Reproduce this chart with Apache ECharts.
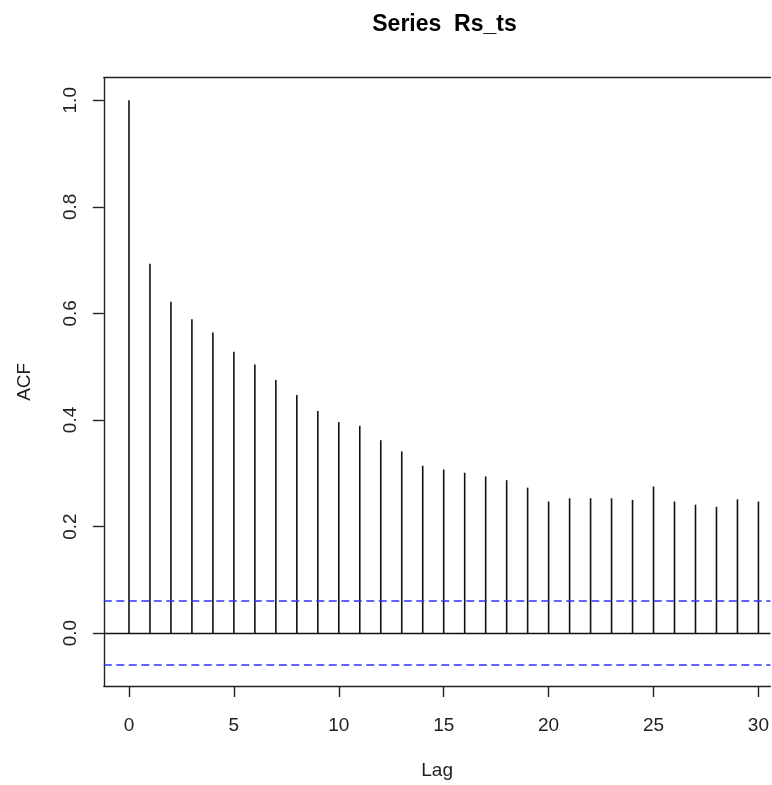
<!DOCTYPE html>
<html>
<head>
<meta charset="utf-8">
<script src="https://cdn.jsdelivr.net/npm/echarts@6/dist/echarts.min.js"></script>
<style>
html,body{margin:0;padding:0;background:#fff;}
#chart{width:772px;height:785px;}
</style>
</head>
<body>
<div id="chart"></div>
<script>
var titleText = 'Series  Rs_ts';
var xName = 'Lag';
var yName = 'ACF';
var lags = [0,1,2,3,4,5,6,7,8,9,10,11,12,13,14,15,16,17,18,19,20,21,22,23,24,25,26,27,28,29,30];
var acfValues = [1.000,0.693,0.622,0.589,0.564,0.528,0.504,0.475,0.447,0.417,0.396,0.389,0.362,0.341,0.314,0.307,0.301,0.294,0.287,0.273,0.247,0.253,0.253,0.253,0.250,0.275,0.247,0.241,0.237,0.251,0.247];
var ciLimit = 0.057;
var xTicks = [0,5,10,15,20,25,30];
var yTicks = [0.0,0.2,0.4,0.6,0.8,1.0];

var font = 'Liberation Sans, Arial, Helvetica, sans-serif';
var chart = echarts.init(document.getElementById('chart'), null, {renderer:'canvas'});
var data = lags.map(function(l,i){ return [l, acfValues[i]]; });
var yMin = -0.0993, yMax = 1.0423;
var xMin = -1.2, xMax = 30.57;
var axisColor = '#222';
chart.setOption({
  animation:false,
  backgroundColor:'#ffffff',
  title:{
    text:titleText, left:439.5, top:8.5, textAlign:'center',
    textStyle:{fontFamily:font, fontWeight:'bold', fontSize:23, color:'#000'}
  },
  grid:{left:103.8, top:77.7, right:0, bottom:96.6, show:false},
  xAxis:[{
    type:'value', min:xMin, max:xMax, position:'bottom',
    name:xName, nameLocation:'middle', nameGap:75,
    nameTextStyle:{fontFamily:font, fontSize:19, color:'#222'},
    axisLine:{show:true, onZero:false, lineStyle:{color:axisColor, width:1.4}},
    axisTick:{show:true, inside:false, length:11, customValues:xTicks, lineStyle:{color:axisColor, width:1.4}},
    axisLabel:{show:true, margin:30, customValues:xTicks, fontFamily:font, fontSize:19, color:'#222'},
    splitLine:{show:false}
  },{
    type:'value', min:xMin, max:xMax, position:'top',
    axisLine:{show:true, onZero:false, lineStyle:{color:axisColor, width:1.4}},
    axisTick:{show:false}, axisLabel:{show:false}, splitLine:{show:false}
  }],
  yAxis:{
    type:'value', min:yMin, max:yMax, position:'left',
    name:yName, nameLocation:'middle', nameGap:70, nameRotate:90,
    nameTextStyle:{fontFamily:font, fontSize:19, color:'#222'},
    axisLine:{show:true, onZero:false, lineStyle:{color:axisColor, width:1.4}},
    axisTick:{show:true, inside:false, length:11, customValues:yTicks, lineStyle:{color:axisColor, width:1.4}},
    axisLabel:{show:true, rotate:90, margin:24, customValues:yTicks, fontFamily:font, fontSize:19, color:'#222',
      formatter:function(v){ return Number(v).toFixed(1); }},
    splitLine:{show:false}
  },
  series:[{
    type:'bar', data:data, barWidth:1.6, itemStyle:{color:'#111'},
    markLine:{
      silent:true, symbol:['none','none'], label:{show:false},
      data:[
        {yAxis:0, lineStyle:{color:'#111', width:1.3, type:'solid'}},
        {yAxis:ciLimit, lineStyle:{color:'#3030ff', width:1.5, type:[8,4.5]}},
        {yAxis:-ciLimit, lineStyle:{color:'#3030ff', width:1.5, type:[8,4.5]}}
      ]
    }
  }]
});
</script>
</body>
</html>
